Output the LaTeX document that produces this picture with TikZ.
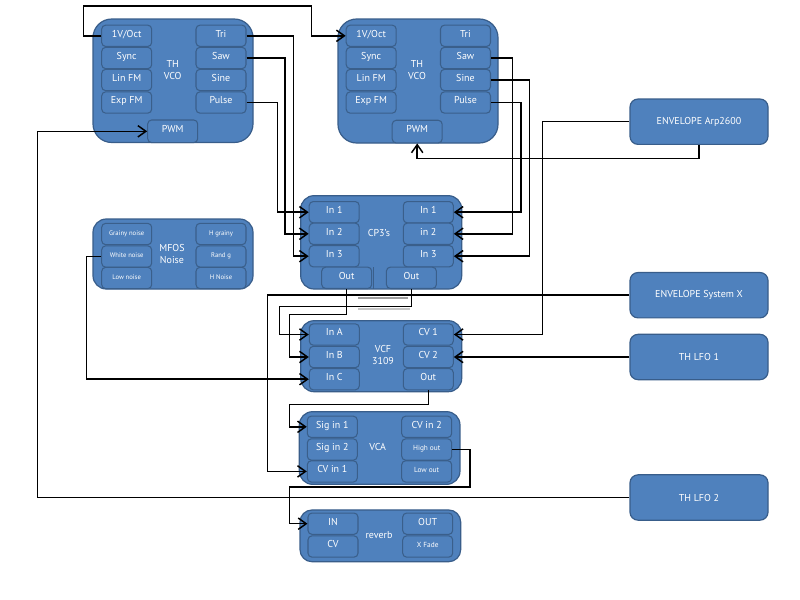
\documentclass[tikz,border=0pt]{standalone}
\usepackage{fontspec}
\setmainfont{PT Sans}
\usetikzlibrary{arrows.meta}
\definecolor{mblue}{HTML}{4F81BD}
\definecolor{mdark}{HTML}{385D8A}
\definecolor{pdark}{HTML}{3A5F8B}
\begin{document}
\begin{tikzpicture}[x=0.75pt,y=-0.75pt,
 module/.style={draw=mdark, fill=mblue, line width=0.9pt, rounded corners=12pt, inner sep=0pt},
 extbox/.style={draw=mdark, fill=mblue, line width=0.9pt, rounded corners=6pt, minimum width=103.5pt, minimum height=34pt, text=white, font=\fontsize{7.5}{9}\selectfont},
 port/.style={draw=pdark, fill=mblue, line width=0.8pt, rounded corners=3pt, minimum width=37.5pt, minimum height=16pt, inner sep=0pt, text height=5pt, text depth=3pt, text=white, font=\fontsize{7.5}{9}\selectfont},
 smalltxt/.style={font=\fontsize{5.5}{6}\selectfont},
 tinytxt/.style={font=\fontsize{5}{6}\selectfont},
 title/.style={text=white, font=\fontsize{7.5}{9}\selectfont, align=center, inner sep=0pt},
 wire/.style={line width=1.1pt, rounded corners=0pt},
 arr/.style={-{Straight Barb[length=6pt,width=8.5pt]}}
]
\fill[white] (0,0) rectangle (800,600);
\useasboundingbox (0,0) rectangle (800,600);

% ---------- TH VCO 1 ----------
\node[module, minimum width=120pt, minimum height=92.6pt, rounded corners=14pt] (vcoA) at (173,80.75) {};
\node[title] (vcoAt) at (172.7,70) {TH\\VCO};
\node[port] (aoct) at (126.7,35.8) {1V/Oct};
\node[port] (async) at (126.7,58) {Sync};
\node[port] (alin) at (126.7,80) {Lin FM};
\node[port] (aexp) at (126.7,102.5) {Exp FM};
\node[port] (atri) at (221,35.8) {Tri};
\node[port] (asaw) at (221,58) {Saw};
\node[port] (asine) at (221,80) {Sine};
\node[port] (apulse) at (221,102.5) {Pulse};
\node[port, minimum height=17pt] (apwm) at (172.7,131.3) {PWM};

% ---------- TH VCO 2 ----------
\node[module, minimum width=120pt, minimum height=93pt, rounded corners=14pt] (vcoB) at (418,81) {};
\node[title] (vcoBt) at (417,70) {TH\\VCO};
\node[port] (boct) at (371.2,35.8) {1V/Oct};
\node[port] (bsync) at (371.2,58) {Sync};
\node[port] (blin) at (371.2,80) {Lin FM};
\node[port] (bexp) at (371.2,102.5) {Exp FM};
\node[port] (btri) at (465.5,35.8) {Tri};
\node[port] (bsaw) at (465.5,58) {Saw};
\node[port] (bsine) at (465.5,80) {Sine};
\node[port] (bpulse) at (465.5,102.5) {Pulse};
\node[port, minimum height=17pt] (bpwm) at (417.2,131.6) {PWM};

% ---------- MFOS Noise ----------
\node[module, minimum width=120pt, minimum height=52.5pt, rounded corners=10pt] (mfos) at (173,254) {};
\node[title] (mfost) at (172,254) {MFOS\\Noise};
\node[port, tinytxt] (mgrainy) at (126.7,234) {Grainy noise};
\node[port, tinytxt] (mwhite) at (126.7,256.5) {White noise};
\node[port, tinytxt] (mlow) at (126.7,278) {Low noise};
\node[port, tinytxt] (mhgrainy) at (221,234) {H grainy};
\node[port, tinytxt] (mrand) at (221,256.5) {Rand g};
\node[port, tinytxt] (mhnoise) at (221,278) {H Noise};

% ---------- CP3's ----------
\node[module, minimum width=120.75pt, minimum height=70pt, rounded corners=10pt] (cp) at (381.2,242.35) {};
\node[title] (cpt) at (379,233) {CP3's};
\node[port] (cpl1) at (334.2,212.2) {In 1};
\node[port] (cpl2) at (334.2,233.8) {In 2};
\node[port] (cpl3) at (334.2,256.2) {In 3};
\node[port] (cpr1) at (428.3,212.2) {In 1};
\node[port] (cpr2) at (428.3,233.8) {in 2};
\node[port] (cpr3) at (428.3,256.2) {In 3};
\draw[pdark, line width=0.8pt] (373.5,267.3) -- (373.5,289);
\node[port] (cpoA) at (346.7,277.8) {Out};
\node[port] (cpoB) at (411.4,277.8) {Out};

% grey marks below CP3's
\fill[gray!75] (358,296.7) rectangle (408,299.3);
\fill[gray!45] (358,308) rectangle (410,310);

% ---------- VCF 3109 ----------
\node[module, minimum width=120.75pt, minimum height=53.25pt, rounded corners=10pt] (vcf) at (381.2,356.2) {};
\node[title] (vcft) at (383,354.5) {VCF\\3109};
\node[port] (fina) at (334.3,334.5) {In A};
\node[port] (finb) at (334.3,357) {In B};
\node[port] (finc) at (334.3,379.2) {In C};
\node[port] (fcv1) at (428.3,334.5) {CV 1};
\node[port] (fcv2) at (428.3,357) {CV 2};
\node[port] (fout) at (428.3,379.2) {Out};

% ---------- VCA ----------
\node[module, minimum width=120.5pt, minimum height=54.5pt, rounded corners=10pt] (vca) at (379.65,448) {};
\node[title] (vcat) at (377.7,446.7) {VCA};
\node[port] (vsig1) at (332.3,426.8) {Sig in 1};
\node[port] (vsig2) at (332.3,449.5) {Sig in 2};
\node[port] (vcv1) at (332.3,471.4) {CV in 1};
\node[port] (vcv2) at (426.7,426.8) {CV in 2};
\node[port, smalltxt] (vhigh) at (426.7,449.5) {High out};
\node[port, smalltxt] (vlow) at (426.7,471.4) {Low out};

% ---------- reverb ----------
\node[module, minimum width=120.5pt, minimum height=38.8pt, rounded corners=9pt] (rev) at (380.35,535.85) {};
\node[title] (revt) at (379,535) {reverb};
\node[port] (rin) at (333,523.7) {IN};
\node[port] (rcv) at (333,546.5) {CV};
\node[port] (rout) at (427.7,523.7) {OUT};
\node[port, smalltxt] (rxf) at (427.7,546.5) {X Fade};

% ---------- external modules ----------
\node[extbox] (arp) at (699,121.7) {ENVELOPE Arp2600};
\node[extbox] (sysx) at (699,295.2) {ENVELOPE System X};
\node[extbox] (lfo1) at (699,357) {TH LFO 1};
\node[extbox] (lfo2) at (699,497.5) {TH LFO 2};

% ---------- connectors ----------
\draw[wire,arr] (aoct.west) -- (83.3,35.8) |- (311.7,6) |- (boct.west);
\draw[wire,arr] (apulse.east) -| (277.3,212.2) -- (cpl1.west);
\draw[wire,arr] (asaw.east) -| (285,233.8) -- (cpl2.west);
\draw[wire,arr] (atri.east) -| (293.3,256.2) -- (cpl3.west);
\draw[wire,arr] (bpulse.east) -| (521,212.2) -- (cpr1.east);
\draw[wire,arr] (bsaw.east) -| (512.3,233.8) -- (cpr2.east);
\draw[wire,arr] (bsine.east) -| (529.3,256.2) -- (cpr3.east);
\draw[wire,arr] (arp.west) -| (542.5,334.5) -- (fcv1.east);
\draw[wire,arr] (arp.south) -- (699,158.3) -| (bpwm.south);
\draw[wire,arr] (sysx.west) -| (267.6,471.4) -- (vcv1.west);
\draw[wire,arr] (lfo1.west) -- (fcv2.east);
\draw[wire,arr] (lfo2.west) -| (37.3,131.3) -- (apwm.west);
\draw[wire,arr] (mwhite.west) -| (86.7,379.2) -- (finc.west);
\draw[wire,arr] (cpoA.south) |- (289.5,314.3) |- (finb.west);
\draw[wire,arr] (cpoB.south) |- (279.3,306.7) |- (fina.west);
\draw[wire,arr] (fout.south) |- (289.3,404.3) |- (vsig1.west);
\draw[wire,arr] (vhigh.east) -| (470,487) -| (289.3,523.7) -- (rin.west);
\end{tikzpicture}
\end{document}
